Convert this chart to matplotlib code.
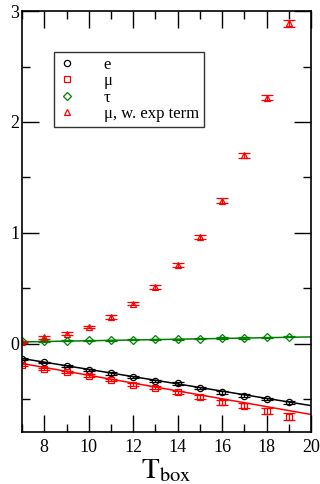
import matplotlib.pyplot as plt
from matplotlib.ticker import MultipleLocator
from matplotlib.lines import Line2D

plt.rcParams['font.family'] = ['Liberation Serif', 'DejaVu Serif']
plt.rcParams['mathtext.fontset'] = 'stix'

# data
T_box = [7, 8, 9, 10, 11, 12, 13, 14, 15, 16, 17, 18, 19]

e_val = [-0.14, -0.17, -0.20, -0.24, -0.27, -0.30, -0.34, -0.36, -0.40, -0.44, -0.47, -0.50, -0.53]
e_err = [0.008, 0.008, 0.009, 0.009, 0.010, 0.010, 0.011, 0.011, 0.012, 0.012, 0.013, 0.013, 0.014]

mu_val = [-0.19, -0.23, -0.26, -0.29, -0.33, -0.37, -0.40, -0.44, -0.48, -0.53, -0.56, -0.61, -0.66]
mu_err = [0.008, 0.009, 0.010, 0.011, 0.012, 0.013, 0.014, 0.016, 0.018, 0.020, 0.023, 0.026, 0.030]

tau_val = [0.02, 0.02, 0.025, 0.03, 0.03, 0.035, 0.04, 0.04, 0.045, 0.05, 0.05, 0.055, 0.06]
tau_err = [0.005] * 13

mu_exp_val = [0.015, 0.055, 0.09, 0.15, 0.24, 0.36, 0.51, 0.71, 0.96, 1.29, 1.70, 2.22, 2.89]
mu_exp_err = [0.01, 0.01, 0.012, 0.012, 0.014, 0.015, 0.016, 0.018, 0.02, 0.022, 0.024, 0.026, 0.03]

# straight fits (end points)
fit_x = [7, 20]
e_fit = [-0.135, -0.56]
mu_fit = [-0.18, -0.64]
tau_fit = [0.015, 0.06]

labels = ['e', '\u03bc', '\u03c4', '\u03bc, w. exp term']
colors = ['black', 'red', 'green', 'red']
markers = ['o', 's', 'D', '^']

fig = plt.figure(figsize=(3.2, 4.84), dpi=100)
ax = fig.add_axes([0.069, 0.107, 0.903, 0.870])

ax.plot(fit_x, e_fit, color='black', lw=1.1)
ax.plot(fit_x, mu_fit, color='red', lw=1.1)
ax.plot(fit_x, tau_fit, color='green', lw=1.1)

common = dict(ls='none', mfc='none', mew=0.9, capsize=4, elinewidth=0.9, capthick=0.9)
sizes = [4.5, 4.5, 3.8, 4.5]
for vals, errs, c, m, ms in zip([e_val, mu_val, tau_val, mu_exp_val],
                                [e_err, mu_err, tau_err, mu_exp_err], colors, markers, sizes):
    ax.errorbar(T_box, vals, yerr=errs, marker=m, ms=ms, color=c, mec=c, **common)

ax.set_xlim(7, 20)
ax.set_ylim(-0.8, 3)
ax.xaxis.set_major_locator(MultipleLocator(2))
ax.xaxis.set_minor_locator(MultipleLocator(1))
ax.yaxis.set_major_locator(MultipleLocator(1))
ax.yaxis.set_minor_locator(MultipleLocator(0.5))
ax.tick_params(which='both', direction='in', top=True, right=True, labelsize=13, width=1)
ax.tick_params(which='major', length=12)
ax.tick_params(which='minor', length=6)
ax.tick_params(axis='y', pad=2)
ax.tick_params(axis='x', pad=5)
for s in ax.spines.values():
    s.set_linewidth(1.2)

ax.set_xlabel(r'$\mathrm{T}_{\mathrm{box}}$', fontsize=21, labelpad=1)

# legend shows markers only, no error bars
handles = [Line2D([], [], ls='none', marker=m, ms=s, mfc='none', mec=c, mew=0.9)
           for m, s, c in zip(markers, sizes, colors)]
leg = ax.legend(handles, labels, loc='upper left', bbox_to_anchor=(0.11, 0.903), fontsize=12,
                frameon=True, fancybox=False, edgecolor='black', handlelength=1.0,
                handletextpad=1.7, borderpad=0.3, labelspacing=0.02, borderaxespad=0)
leg.get_frame().set_linewidth(1.0)

fig.savefig('out.png', dpi=100)
